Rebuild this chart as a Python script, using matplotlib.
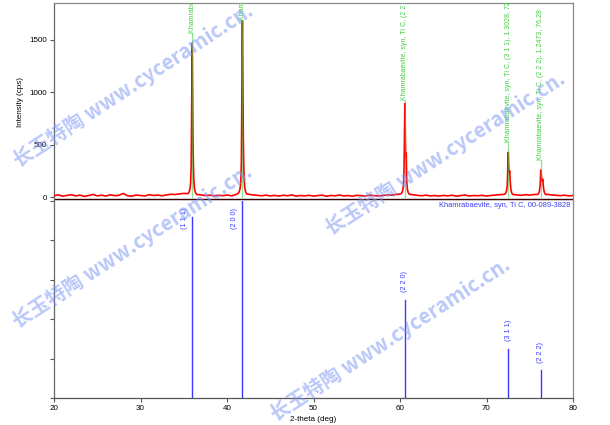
import numpy as np
import matplotlib
matplotlib.use('Agg')
import matplotlib.pyplot as plt

plt.rcParams['font.family'] = ['Liberation Sans', 'DejaVu Sans']

# ----------- reference card (Khamrabaevite, syn, Ti C, 00-089-3828) -----------
ref_two_theta = [35.97, 41.78, 60.56, 72.50, 76.28]
ref_hkl = ['(1 1 1)', '(2 0 0)', '(2 2 0)', '(3 1 1)', '(2 2 2)']
ref_d = ['2.4947', '2.1605', '1.5277', '1.3028', '1.2473']
ref_intensity = [92, 100, 50, 25, 14]
marker_top_cps = [1560, 1690, 925, 525, 350]
card_label = 'Khamrabaevite, syn, Ti C, 00-089-3828'
phase_name = 'Khamrabaevite, syn, Ti C'

bg_start, bg_step = 20.0, 0.5
bg_cps = [
    12, 20, 8, 15, 22, 10, 18, 6, 14, 25,
    11, 17, 9, 21, 13, 16, 34, 12, 8, 19,
    14, 10, 22, 15, 18, 12, 20, 26, 24, 30,
    34, 38, 28, 24, 20, 14, 18, 11, 16, 13,
    19, 12, 22, 30, 36, 26, 20, 16, 12, 18,
    10, 15, 9, 17, 12, 20, 8, 14, 11, 16,
    9, 13, 18, 7, 15, 11, 19, 10, 14, 8,
    16, 12, 9, 18, 13, 10, 15, 20, 17, 24,
    28, 34, 30, 22, 16, 12, 18, 10, 14, 9,
    15, 11, 17, 8, 13, 19, 10, 14, 12, 16,
    9, 15, 18, 22, 26, 30, 28, 20, 16, 22,
    18, 24, 28, 32, 26, 20, 16, 13, 17, 11,
    14,
]
background_level = -22

peak_111_tt = [35.50, 35.62, 35.72, 35.80, 35.86, 35.91, 35.95, 35.97, 35.99, 36.03, 36.07, 36.11, 36.16, 36.24, 36.34, 36.46]
peak_111_cps = [32, 48, 75, 140, 300, 760, 1300, 1465, 1380, 900, 520, 330, 170, 80, 45, 28]
peak_200_tt = [41.30, 41.42, 41.52, 41.60, 41.66, 41.71, 41.75, 41.78, 41.80, 41.84, 41.88, 41.92, 41.97, 42.05, 42.15, 42.27]
peak_200_cps = [35, 52, 85, 150, 330, 850, 1480, 1680, 1590, 1020, 600, 380, 190, 90, 50, 30]
peak_220_tt = [60.10, 60.22, 60.32, 60.40, 60.46, 60.51, 60.54, 60.56, 60.58, 60.62, 60.67, 60.72, 60.78, 60.86, 60.96, 61.08]
peak_220_cps = [30, 42, 65, 110, 230, 520, 800, 890, 840, 560, 380, 420, 150, 70, 40, 26]
peak_311_tt = [72.10, 72.22, 72.32, 72.40, 72.45, 72.49, 72.52, 72.56, 72.62, 72.68, 72.74, 72.82, 72.92, 73.04]
peak_311_cps = [26, 38, 60, 110, 240, 410, 425, 300, 230, 250, 150, 70, 38, 24]
peak_222_tt = [75.90, 76.02, 76.12, 76.20, 76.25, 76.28, 76.32, 76.38, 76.44, 76.50, 76.56, 76.64, 76.74, 76.86]
peak_222_cps = [24, 34, 55, 110, 200, 258, 230, 160, 150, 170, 110, 60, 35, 22]

watermark = '长玉特陶 www.cyceramic.cn.'
watermark_px = [(133, 86), (132, 247), (445, 154), (390, 340)]


def build_pattern():
    bg_tt = bg_start + bg_step * np.arange(len(bg_cps))
    peaks = [(peak_111_tt, peak_111_cps), (peak_200_tt, peak_200_cps),
             (peak_220_tt, peak_220_cps), (peak_311_tt, peak_311_cps),
             (peak_222_tt, peak_222_cps)]
    keep = np.ones(len(bg_tt), dtype=bool)
    for p_tt, _ in peaks:
        keep &= ~((bg_tt >= p_tt[0]) & (bg_tt <= p_tt[-1]))
    tt = list(bg_tt[keep])
    cps = list(np.array(bg_cps)[keep])
    for p_tt, p_cps in peaks:
        tt += p_tt
        cps += p_cps
    order = np.argsort(tt)
    return np.array(tt)[order], np.array(cps)[order]


W, H = 610, 425
fig = plt.figure(figsize=(W / 100, H / 100), dpi=100)
left, right = 54 / W, 573 / W
ax_top = fig.add_axes([left, 1 - 201 / H, right - left, 198 / H])
ax_bot = fig.add_axes([left, 1 - 398 / H, right - left, 197 / H])

spine_col = '#8a8a8a'
tick_kw = dict(labelsize=5.8, length=3, width=0.8, color='#555555', pad=2)

# ----------- top panel: measured pattern -----------
tt, cps = build_pattern()
ax_top.axhline(background_level, color='#3a0000', lw=1.0, zorder=2)
ax_top.plot(tt, cps, color='#ff0000', lw=1.2, zorder=3)
for x, top, hkl, d in zip(ref_two_theta, marker_top_cps, ref_hkl, ref_d):
    ax_top.plot([x, x], [0, top], color='#44cc44', lw=0.9, alpha=0.6, zorder=4)
    # labels run off the top of the panel, as in the original software
    ax_top.text(x, top, f'{phase_name}, {hkl}, {d}, {x:.2f}', rotation=90,
                ha='center', va='bottom', fontsize=5.0, color='#44cc44',
                clip_on=True, zorder=5)

ax_top.set_xlim(20, 80)
ax_top.set_ylim(-38, 1848)
ax_top.set_yticks([0, 500, 1000, 1500])
ax_top.set_xticks([])
ax_top.tick_params(axis='y', **tick_kw)
ax_top.set_ylabel('Intensity (cps)', fontsize=5.8, labelpad=4)
for s in ax_top.spines.values():
    s.set_color(spine_col)
    s.set_linewidth(0.9)
ax_top.spines['left'].set_color('#666666')

# ----------- bottom panel: reference sticks -----------
for x, inten, hkl in zip(ref_two_theta, ref_intensity, ref_hkl):
    ax_bot.plot([x, x], [0, inten], color='#3b3bff', lw=1.0)
    if inten > 80:
        ax_bot.text(x - 0.88, 96.5, hkl, rotation=90, ha='center', va='top',
                    fontsize=5.2, color='#3b3bff')
    else:
        ax_bot.text(x, inten + 4, hkl, rotation=90, ha='center', va='bottom',
                    fontsize=5.2, color='#3b3bff')
ax_bot.text(0.995, 0.995, card_label, transform=ax_bot.transAxes, ha='right',
            va='top', fontsize=5.4, color='#3b3bff')

ax_bot.set_xlim(20, 80)
ax_bot.set_ylim(0, 100)
ax_bot.set_xticks(range(20, 81, 10))
ax_bot.set_yticks(range(0, 101, 20))
ax_bot.set_yticklabels([])
ax_bot.tick_params(axis='both', **tick_kw)
ax_bot.set_xlabel('2-theta (deg)', fontsize=5.8, labelpad=3)
for s in ax_bot.spines.values():
    s.set_color(spine_col)
    s.set_linewidth(0.9)
ax_bot.spines['top'].set_visible(False)
ax_bot.spines['left'].set_color('#666666')
ax_bot.spines['bottom'].set_color('#555555')

# ----------- watermark -----------
for px, py in watermark_px:
    fig.text(px / W, 1 - py / H, watermark, rotation=33, rotation_mode='anchor',
             ha='center', va='center', fontsize=14.5, fontweight='bold',
             color='#809af4', alpha=0.55,
             family=['Noto Sans CJK SC', 'DejaVu Sans'], zorder=10)

fig.savefig('out.png', dpi=100)
